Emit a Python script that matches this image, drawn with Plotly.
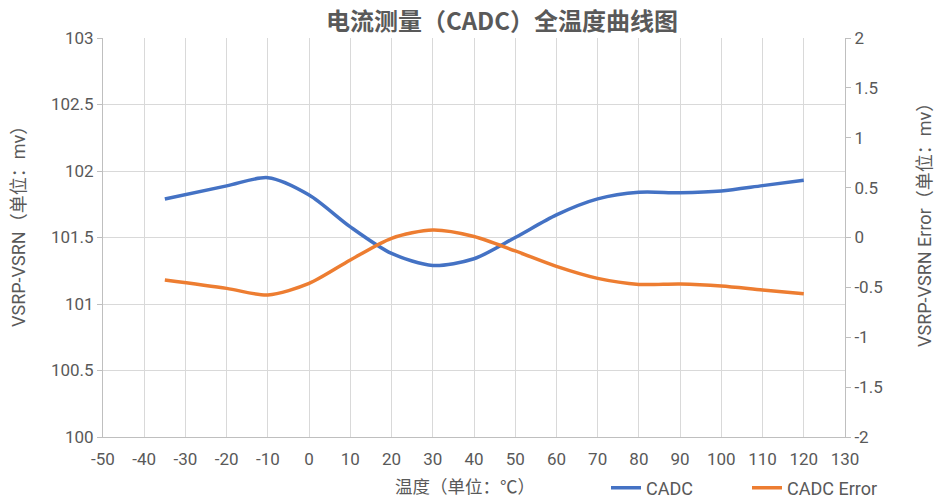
import plotly.graph_objects as go

temps = [-35, -20, -10, 0, 10, 20, 30, 40, 50, 60, 70, 80, 90, 100, 110, 120]
cadc = [101.79, 101.888, 101.95, 101.82, 101.58, 101.38, 101.29, 101.34, 101.50, 101.67,
        101.79, 101.84, 101.837, 101.85, 101.89, 101.93]
cadc_err = [-0.426, -0.51, -0.576, -0.46, -0.226, -0.008, 0.075, 0.01, -0.135, -0.29,
            -0.41, -0.47, -0.466, -0.486, -0.526, -0.563]

x_ticks = list(range(-50, 131, 10))
x_labels = [str(v) for v in x_ticks]
yl_ticks = [100, 100.5, 101, 101.5, 102, 102.5, 103]
yl_labels = ["100", "100.5", "101", "101.5", "102", "102.5", "103"]
yr_ticks = [-2, -1.5, -1, -0.5, 0, 0.5, 1, 1.5, 2]
yr_labels = ["-2", "-1.5", "-1", "-0.5", "0", "0.5", "1", "1.5", "2"]

FONT = "Roboto, Noto Sans CJK SC, sans-serif"
GRAY = "#595959"

fig = go.Figure()
fig.add_trace(go.Scatter(x=temps, y=cadc, name="CADC", mode="lines",
                         line=dict(color="#4472C4", width=3.5, shape="spline", smoothing=0.8)))
fig.add_trace(go.Scatter(x=temps, y=cadc_err, name="CADC Error", mode="lines", yaxis="y2",
                         line=dict(color="#ED7D31", width=3.5, shape="spline", smoothing=0.8)))

tickfont = dict(size=17, color=GRAY, family=FONT)
fig.update_layout(
    width=934, height=500,
    margin=dict(l=103, r=89, t=38, b=63, autoexpand=False),
    paper_bgcolor="white", plot_bgcolor="white",
    font=dict(family=FONT, color=GRAY, size=17),
    title=dict(text="<b>电流测量（CADC）全温度曲线图</b>", x=502 / 934, xref="container", xanchor="center",
               y=1 - 22 / 500, yref="container", yanchor="middle",
               font=dict(size=24, color=GRAY, family="Noto Sans CJK SC, sans-serif")),
    xaxis=dict(range=[-50, 130], tickvals=x_ticks, ticktext=x_labels, showgrid=True,
               gridcolor="#d9d9d9", gridwidth=1, showline=True, linecolor="#bfbfbf",
               zeroline=False, ticks="", automargin=False, ticklabelstandoff=7, tickfont=tickfont),
    yaxis=dict(range=[100, 103], tickvals=yl_ticks, ticktext=yl_labels, showgrid=True,
               gridcolor="#d9d9d9", gridwidth=1, showline=True, linecolor="#bfbfbf",
               zeroline=False, ticks="outside", ticklen=5, tickcolor="#bfbfbf", automargin=False,
               tickfont=tickfont),
    yaxis2=dict(range=[-2, 2], tickvals=yr_ticks, ticktext=yr_labels, overlaying="y",
                side="right", showgrid=False, showline=True, linecolor="#bfbfbf",
                zeroline=False, ticks="outside", ticklen=5, tickcolor="#bfbfbf", automargin=False,
                tickfont=tickfont),
    legend=dict(orientation="h", x=(606 - 103) / 742, xanchor="left", y=-0.128, yanchor="middle",
                entrywidth=96, entrywidthmode="pixels",
                font=dict(size=18, color=GRAY, family=FONT), bgcolor="rgba(0,0,0,0)"),
    showlegend=True,
)

def px_to_paper(px, py):
    return (px - 103) / 742, (437 - py) / 399

titles = [("VSRP-VSRN（单位：mv）", 18, 222, -90, 18),
          ("VSRP-VSRN Error（单位：mv）", 924, 221, -90, 18),
          ("温度（单位：℃）", 465, 487, 0, 17.5)]
for txt, px, py, ang, sz in titles:
    ax, ay = px_to_paper(px, py)
    fig.add_annotation(text=txt, x=ax, y=ay, xref="paper", yref="paper", showarrow=False,
                       textangle=ang, xanchor="center", yanchor="middle",
                       font=dict(size=sz, color=GRAY, family=FONT))

fig.write_html("out.html", config={"displayModeBar": False})

# remove default page margin so the figure sits at the window's top-left corner
with open("out.html", "r", encoding="utf-8") as f:
    html = f.read()
html = html.replace("<head>", "<head><style>html,body{margin:0;padding:0;overflow:hidden;}</style>", 1)
with open("out.html", "w", encoding="utf-8") as f:
    f.write(html)
